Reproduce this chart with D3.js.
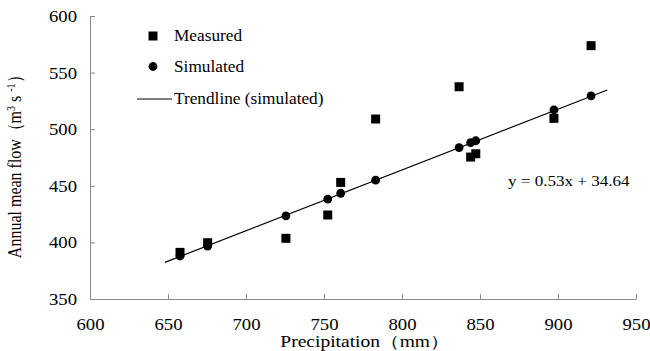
<!DOCTYPE html>
<html>
<head>
<meta charset="utf-8">
<script src="https://cdn.jsdelivr.net/npm/d3@7"></script>
<style>
  body { margin: 0; background: #fff; }
  text { font-family: "Liberation Serif", "Times New Roman", serif; fill: #000; }
</style>
</head>
<body>
<div class="canvas"></div>
<script>
// data
const precip    = [657.7, 675.4, 725.6, 752.4, 760.7, 783.1, 836.6, 844.0, 847.3, 897.4, 921.2];
const measured  = [391.2, 399.7, 403.6, 424.2, 453.0, 509.0, 537.5, 475.4, 478.3, 509.6, 573.8];
const simulated = [388.0, 396.8, 423.5, 438.3, 443.4, 455.0, 483.8, 488.2, 489.8, 517.0, 529.5];
const trendX = [648, 931.6];
const trendY = [382.4, 534.6];
const xTicks = [600, 650, 700, 750, 800, 850, 900, 950];
const yTicks = [350, 400, 450, 500, 550, 600];
const legendItems = ['Measured', 'Simulated', 'Trendline (simulated)'];
const equation = 'y = 0.53x + 34.64';

const dims = { width: 650, height: 351 };
const axisCol = '#8a8a8a';
const stretch = 1.17; // glyphs in the picture are a bit wide

const svg = d3.select('.canvas')
  .append('svg')
  .attr('width', dims.width)
  .attr('height', dims.height);

const x = d3.scaleLinear().domain([600, 950]).range([90, 636]);
const y = d3.scaleLinear().domain([350, 600]).range([299, 16]);

// x axis, ticks pointing up into the plot
const xAxis = svg.append('g')
  .attr('transform', `translate(0, ${y(350)})`)
  .call(d3.axisBottom(x).tickValues(xTicks).tickSizeInner(-5).tickSizeOuter(0));

xAxis.select('.domain').attr('stroke', axisCol);
xAxis.selectAll('.tick line').attr('stroke', axisCol);
xAxis.selectAll('.tick text')
  .attr('y', 0).attr('dy', null)
  .attr('transform', `translate(0, 31) scale(${stretch}, 1)`)
  .style('font-size', '16px')
  .attr('font-family', null);

// y axis, ticks pointing right
const yAxis = svg.append('g')
  .attr('transform', `translate(${x(600)}, 0)`)
  .call(d3.axisLeft(y).tickValues(yTicks).tickSizeInner(-5).tickSizeOuter(0));

yAxis.select('.domain').attr('stroke', axisCol);
yAxis.selectAll('.tick line').attr('stroke', axisCol);
yAxis.selectAll('.tick text')
  .attr('x', 0).attr('dy', '0.34em')
  .attr('transform', `translate(-13, 0) scale(${stretch}, 1)`)
  .style('font-size', '16px')
  .attr('font-family', null);

// axis titles
svg.append('text')
  .attr('text-anchor', 'middle')
  .attr('transform', `translate(365, 347) scale(1.22, 1)`)
  .style('font-size', '16px')
  .text('Precipitation（mm）');

const yTitle = svg.append('text')
  .attr('text-anchor', 'middle')
  .attr('transform', `translate(21, 163) rotate(-90) scale(1, ${stretch})`)
  .style('font-size', '16px');
yTitle.append('tspan').text('Annual mean flow（m');
yTitle.append('tspan').attr('dy', -5).style('font-size', '10px').text('3');
yTitle.append('tspan').attr('dy', 5).text(' s ');
yTitle.append('tspan').attr('dy', -5).style('font-size', '10px').text('-1');
yTitle.append('tspan').attr('dy', 5).text('）');

// trendline
const line = d3.line().x(d => x(d[0])).y(d => y(d[1]));
svg.append('path')
  .attr('d', line(d3.zip(trendX, trendY)))
  .attr('fill', 'none')
  .attr('stroke', '#000')
  .attr('stroke-width', 1.2);

// simulated points (drawn first, squares on top like the picture)
svg.append('g').selectAll('circle')
  .data(d3.zip(precip, simulated))
  .enter().append('circle')
    .attr('cx', d => x(d[0]))
    .attr('cy', d => y(d[1]))
    .attr('r', 4.4)
    .attr('fill', '#000');

const sq = 9;
svg.append('g').selectAll('rect')
  .data(d3.zip(precip, measured))
  .enter().append('rect')
    .attr('x', d => x(d[0]) - sq / 2)
    .attr('y', d => y(d[1]) - sq / 2)
    .attr('width', sq)
    .attr('height', sq)
    .attr('fill', '#000');

// equation
svg.append('text')
  .attr('transform', `translate(508, 186) scale(${stretch}, 1)`)
  .style('font-size', '14.6px')
  .text(equation);

// legend
const legendGroup = svg.append('g');
legendGroup.append('rect')
  .attr('x', 153 - sq / 2).attr('y', 36 - sq / 2)
  .attr('width', sq).attr('height', sq).attr('fill', '#000');
legendGroup.append('circle')
  .attr('cx', 153).attr('cy', 66.5).attr('r', 4.4).attr('fill', '#000');
legendGroup.append('line')
  .attr('x1', 137).attr('x2', 172).attr('y1', 99).attr('y2', 99)
  .attr('stroke', '#000').attr('stroke-width', 1.2);

legendGroup.selectAll('text.leg')
  .data(legendItems)
  .enter().append('text')
    .attr('class', 'leg')
    .attr('transform', (d, i) => `translate(174, ${41 + i * 31.3}) scale(1.08, 1)`)
    .style('font-size', '16px')
    .text(d => d);
</script>
</body>
</html>
